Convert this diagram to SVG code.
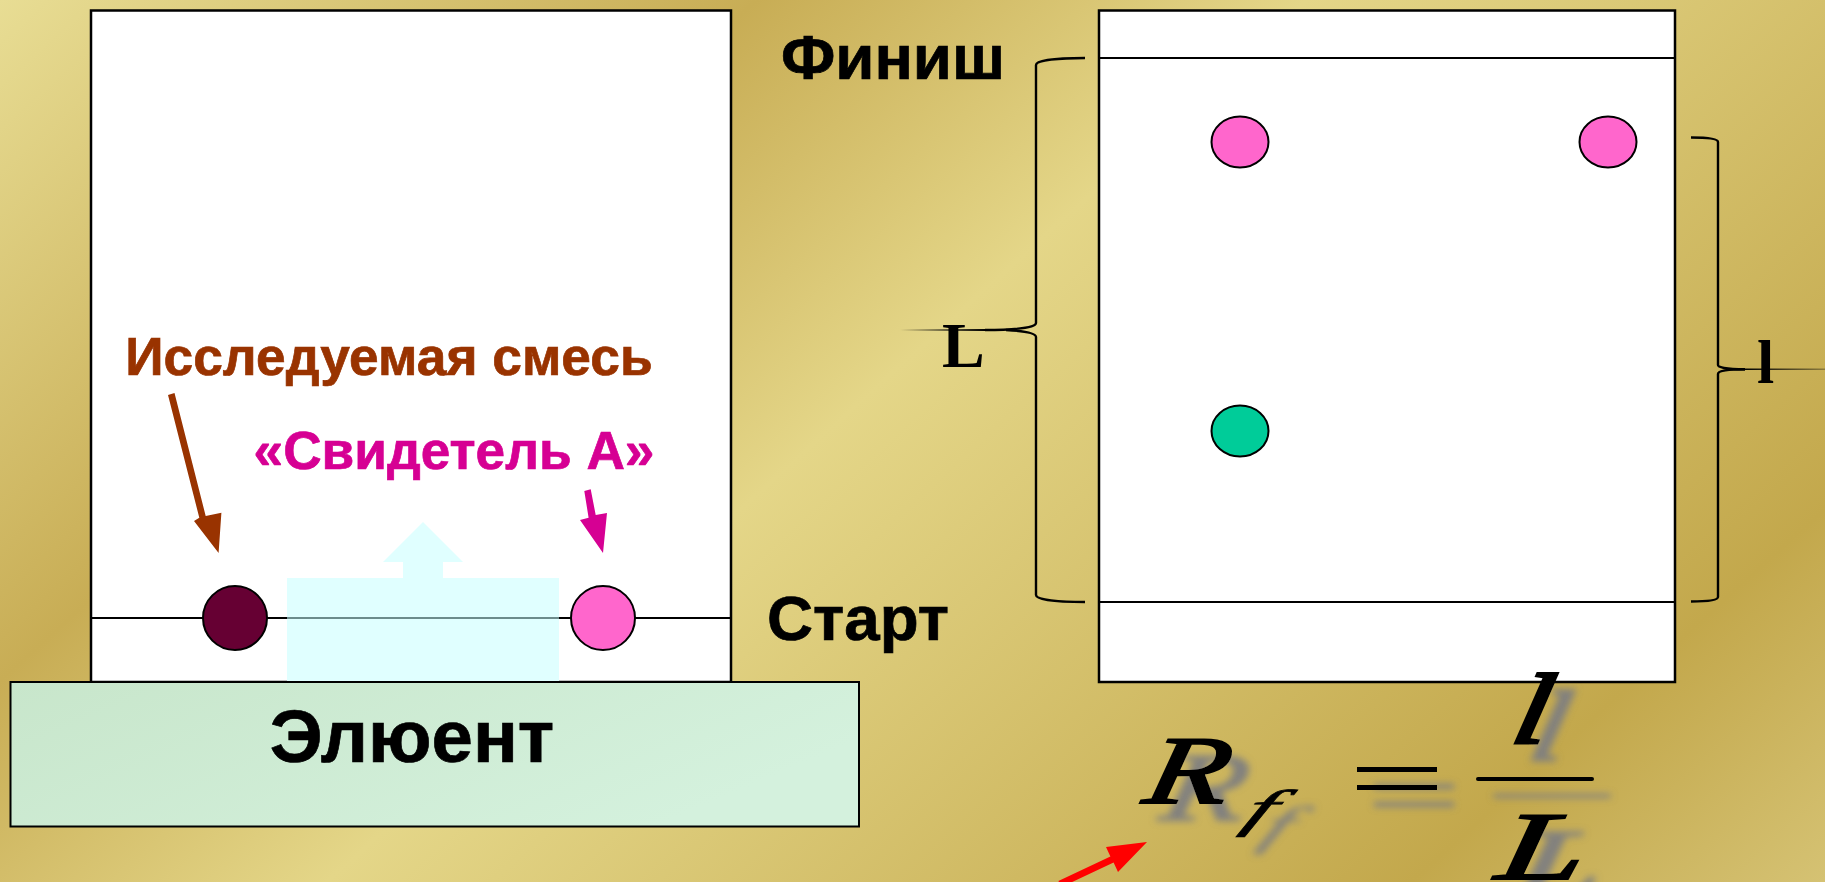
<svg xmlns="http://www.w3.org/2000/svg" width="1825" height="882" viewBox="0 0 1825 882">
<style>
.plate{fill:#fff;stroke:#000;stroke-width:2.500}
.line{stroke:#000;stroke-width:2;fill:none}
.dot{stroke:#000;stroke-width:2}
.brace{fill:none;stroke:#000;stroke-width:2.400}
.label{font-family:"Liberation Sans",Arial,sans-serif;font-weight:700;stroke-width:0.700;paint-order:stroke}
.math{font-family:"Liberation Serif","Times New Roman",serif}
.var{font-style:italic;stroke:#000}
</style>
<defs>
<linearGradient id="bg" gradientUnits="userSpaceOnUse" x1="0" y1="0" x2="1255" y2="1394">
<stop offset="0" stop-color="#e8dd94"/><stop offset="0.27" stop-color="#c8ad55"/><stop offset="0.466" stop-color="#e4d688"/><stop offset="0.853" stop-color="#c3a84c"/><stop offset="1" stop-color="#d5c273"/>
</linearGradient>
<linearGradient id="green" x1="0" y1="0" x2="1" y2="0.4">
<stop offset="0" stop-color="#c8e6cb"/><stop offset="1" stop-color="#d4f1dd"/>
</linearGradient>
<linearGradient id="fadeL" gradientUnits="userSpaceOnUse" x1="900" y1="0" x2="985" y2="0">
<stop offset="0" stop-color="#000" stop-opacity="0"/><stop offset="1" stop-color="#000"/>
</linearGradient>
<linearGradient id="fadeR" gradientUnits="userSpaceOnUse" x1="1825" y1="0" x2="1745" y2="0">
<stop offset="0" stop-color="#000" stop-opacity="0.3"/><stop offset="1" stop-color="#000"/>
</linearGradient>
<filter id="shadow" x="-30%" y="-30%" width="170%" height="170%">
<feDropShadow dx="17" dy="17" stdDeviation="3.500" flood-color="#7f7f80" flood-opacity="0.95"/>
</filter>
</defs>
<rect id="background" width="1825" height="882" fill="url(#bg)"/>

<g id="plate-left">
<rect class="plate" x="91" y="10.500" width="640" height="671.500"/>
<line class="line" x1="91" y1="618" x2="731" y2="618"/>
</g>
<g id="eluent-flow">
<path fill="#e0ffff" d="M287 578H403V562H383L423 522L463 562H443V578H559V682H287Z"/>
<line x1="287" y1="618" x2="559" y2="618" stroke="#6c8c8c" stroke-width="2"/>
</g>
<g id="spot-mix"><circle class="dot" cx="235" cy="618" r="32" fill="#660033"/></g>
<g id="spot-witness"><circle class="dot" cx="603" cy="618" r="32" fill="#ff66cc"/></g>
<g id="eluent">
<rect x="10.500" y="682" width="848.500" height="144.500" fill="url(#green)" stroke="#000" stroke-width="2"/>
<text class="label" x="412" y="762" font-size="74.400" text-anchor="middle" fill="#000" stroke="#000">Элюент</text>
</g>
<g id="label-mix"><text class="label" x="389" y="375" font-size="53.300" text-anchor="middle" fill="#993300" stroke="#993300">Исследуемая смесь</text></g>
<g id="label-witness"><text class="label" x="454" y="469" font-size="53.200" text-anchor="middle" fill="#d60093" stroke="#d60093">«Свидетель А»</text></g>
<g id="label-finish"><text class="label" x="893" y="79" font-size="63.700" text-anchor="middle" fill="#000" stroke="#000">Финиш</text></g>
<g id="label-start"><text class="label" x="858" y="640" font-size="63.700" text-anchor="middle" fill="#000" stroke="#000">Старт</text></g>

<g id="plate-right">
<rect class="plate" x="1099" y="10.500" width="576" height="671.500"/>
<line class="line" x1="1099" y1="58" x2="1675" y2="58"/>
<line class="line" x1="1099" y1="602" x2="1675" y2="602"/>
</g>
<g id="spot-r1"><ellipse class="dot" cx="1240" cy="142" rx="28.500" ry="25.500" fill="#ff66cc"/></g>
<g id="spot-r2"><ellipse class="dot" cx="1608" cy="142" rx="28.500" ry="25.500" fill="#ff66cc"/></g>
<g id="spot-r3"><ellipse class="dot" cx="1240" cy="431" rx="28.500" ry="25.500" fill="#00cc99"/></g>

<g id="brace-left">
<path class="brace" d="M1085 58C1060 58 1036 60 1036 65V323C1036 327 1020 330 985 330"/>
<path class="brace" d="M1006 330C1025 331 1036 333 1036 337V595C1036 600 1060 602 1085 602"/>
<rect x="900" y="329" width="85" height="2" fill="url(#fadeL)"/>
<text class="math" x="942" y="367" font-size="64" font-weight="700" fill="#000">L</text>
</g>
<g id="brace-right">
<path class="brace" d="M1691 137.500C1708 137.500 1718 139 1718 142V365C1718 367 1725 369.300 1745 369.300"/>
<path class="brace" d="M1745 369.300C1725 369.500 1718 371 1718 374V597C1718 600 1708 601.500 1691 601.500"/>
<rect x="1745" y="368.500" width="80" height="1.500" fill="url(#fadeR)"/>
<text class="math" x="1757" y="383" font-size="62" font-weight="700" fill="#000">l</text>
</g>

<g id="formula" filter="url(#shadow)" fill="#000">
<text class="math var" stroke-width="2" transform="translate(1141 803) skewX(-12) scale(1.400 1)" font-size="97">R</text>
<text class="math var" stroke-width="0.600" transform="translate(1240 826) skewX(-25) scale(2 1)" font-size="52">f</text>
<rect x="1357" y="767" width="80" height="5"/>
<rect x="1357" y="785" width="80" height="5"/>
<text class="math var" stroke-width="3" transform="translate(1509 743) skewX(-12) scale(1.300 1)" font-size="100">l</text>
<rect x="1476" y="777" width="118" height="4" rx="2"/>
<text class="math var" stroke-width="2" transform="translate(1494 879) skewX(-10) scale(1.620 1)" font-size="97">L</text>
</g>

<g id="connectors">
<path fill="#993300" d="M168 395L174.500 393L205.700 516L221.400 512.700L218.600 553L194 521L199.300 517.800Z"/>
<path fill="#d60093" d="M584.300 491L590.700 489.300L595.700 515L607 513L603 553L580 520L588.600 517.700Z"/>
<path fill="#ff0000" d="M1058.400 880.900L1110.400 856.400L1106 847L1147 842L1118 872L1113.600 862.600L1061.600 887.100Z"/>
</g>
</svg>
